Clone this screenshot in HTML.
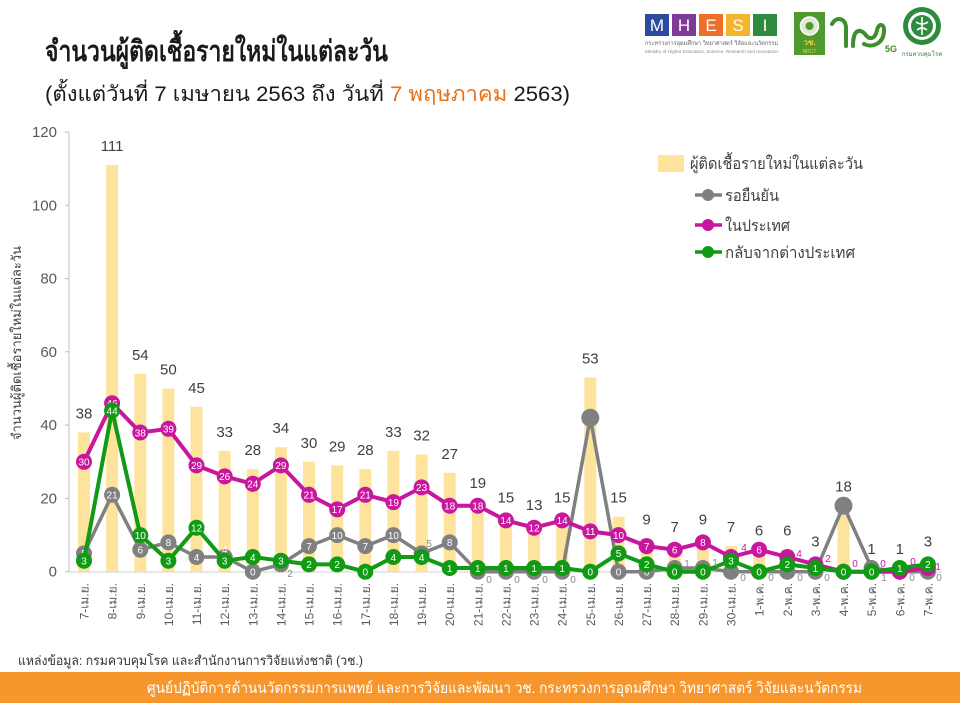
<!DOCTYPE html>
<html><head><meta charset="utf-8">
<style>
html,body{margin:0;padding:0;background:#fff;}
body{width:960px;height:703px;overflow:hidden;position:relative;font-family:"Liberation Sans","DejaVu Sans",sans-serif;}
svg{position:absolute;left:0;top:0;}
text{font-family:"Liberation Sans","DejaVu Sans",sans-serif;}
</style></head><body>
<svg width="960" height="703" viewBox="0 0 960 703" xmlns="http://www.w3.org/2000/svg">
<rect x="0" y="0" width="960" height="703" fill="#fff"/>
<!-- Title -->
<text x="45" y="61" font-size="29" font-weight="bold" fill="#1a1a1a" textLength="343" lengthAdjust="spacingAndGlyphs">จำนวนผู้ติดเชื้อรายใหม่ในแต่ละวัน</text>
<text x="45" y="101" font-size="21" fill="#1a1a1a" textLength="525" lengthAdjust="spacingAndGlyphs">(ตั้งแต่วันที่ 7 เมษายน 2563 ถึง วันที่ <tspan fill="#E8701A">7 พฤษภาคม</tspan> 2563)</text>

<!-- Logos -->
<rect x="645" y="14" width="24" height="22" fill="#2D4B9E"/>
<rect x="672" y="14" width="24" height="22" fill="#7E3A96"/>
<rect x="699" y="14" width="24" height="22" fill="#EE6E2A"/>
<rect x="726" y="14" width="24" height="22" fill="#F3B52C"/>
<rect x="753" y="14" width="24" height="22" fill="#2D8A3E"/>
<g font-size="17" fill="#fff" text-anchor="middle">
<text x="657" y="31" font-family="Liberation Serif,serif">M</text>
<text x="684" y="31" font-family="Liberation Serif,serif">H</text>
<text x="711" y="31" font-family="Liberation Serif,serif">E</text>
<text x="738" y="31" font-family="Liberation Serif,serif">S</text>
<text x="765" y="31" font-family="Liberation Serif,serif">I</text>
</g>
<text x="645" y="45" font-size="6" fill="#666" textLength="133" lengthAdjust="spacingAndGlyphs">กระทรวงการอุดมศึกษา วิทยาศาสตร์ วิจัยและนวัตกรรม</text>
<text x="645" y="53" font-size="4.5" fill="#888" textLength="133" lengthAdjust="spacingAndGlyphs">Ministry of Higher Education, Science, Research and Innovation</text>
<rect x="794" y="12" width="31" height="43" fill="#4E9A2F"/>
<circle cx="809.5" cy="26" r="9" fill="#dfe9d6" stroke="#fff" stroke-width="1.5"/>
<circle cx="809.5" cy="26" r="4" fill="#4E9A2F"/>
<text x="809.5" y="45" font-size="8" font-weight="bold" fill="#F3D23B" text-anchor="middle">วช.</text>
<text x="809.5" y="53" font-size="5" fill="#F3D23B" text-anchor="middle">NRCT</text>
<path d="M832,24 C836,16 846,18 846,28 L846,46 M853,46 C853,30 859,28 865,34 C869,40 875,40 877,30 C879,22 885,24 884,32 C883,44 872,48 864,44" stroke="#3E8E2E" stroke-width="4" fill="none" stroke-linecap="round"/>
<text x="885" y="52" font-size="9" font-weight="bold" fill="#3E8E2E">5G</text>
<circle cx="922" cy="26" r="19" fill="#2E8B3E"/>
<circle cx="922" cy="26" r="14" fill="#fff"/>
<circle cx="922" cy="26" r="11" fill="#2E8B3E"/>
<path d="M922,17 L922,35 M916,22 Q922,26 928,22 M917,30 Q922,26 927,30" stroke="#fff" stroke-width="1.6" fill="none"/>
<text x="922" y="56" font-size="6" fill="#2E8B3E" text-anchor="middle">กรมควบคุมโรค</text>

<!-- Axes -->
<line x1="69" y1="132" x2="69" y2="572" stroke="#BFBFBF" stroke-width="1"/>
<line x1="69" y1="572" x2="942" y2="572" stroke="#D0D0D0" stroke-width="1"/>
<g stroke="#BFBFBF" stroke-width="1">
<line x1="65" y1="132" x2="69" y2="132"/>
<line x1="65" y1="205.3" x2="69" y2="205.3"/>
<line x1="65" y1="278.6" x2="69" y2="278.6"/>
<line x1="65" y1="351.8" x2="69" y2="351.8"/>
<line x1="65" y1="425.1" x2="69" y2="425.1"/>
<line x1="65" y1="498.4" x2="69" y2="498.4"/>
<line x1="65" y1="571.7" x2="69" y2="571.7"/>
</g>
<g font-size="15" fill="#595959" text-anchor="end">
<text x="57" y="137">120</text>
<text x="57" y="210.3">100</text>
<text x="57" y="283.6">80</text>
<text x="57" y="356.8">60</text>
<text x="57" y="430.1">40</text>
<text x="57" y="503.4">20</text>
<text x="57" y="576.7">0</text>
</g>
<text transform="translate(21,343) rotate(-90)" font-size="13" fill="#404040" text-anchor="middle">จำนวนผู้ติดเชื้อรายใหม่ในแต่ละวัน</text>

<!-- Bars -->
<g fill="#FDE39C">
<rect x="78.0" y="432.5" width="12" height="139.2"/>
<rect x="106.1" y="165.0" width="12" height="406.7"/>
<rect x="134.3" y="373.8" width="12" height="197.9"/>
<rect x="162.4" y="388.5" width="12" height="183.2"/>
<rect x="190.5" y="406.8" width="12" height="164.9"/>
<rect x="218.7" y="450.8" width="12" height="120.9"/>
<rect x="246.8" y="469.1" width="12" height="102.6"/>
<rect x="274.9" y="447.1" width="12" height="124.6"/>
<rect x="303.0" y="461.8" width="12" height="109.9"/>
<rect x="331.2" y="465.4" width="12" height="106.3"/>
<rect x="359.3" y="469.1" width="12" height="102.6"/>
<rect x="387.4" y="450.8" width="12" height="120.9"/>
<rect x="415.6" y="454.5" width="12" height="117.2"/>
<rect x="443.7" y="472.8" width="12" height="98.9"/>
<rect x="471.8" y="502.1" width="12" height="69.6"/>
<rect x="499.9" y="516.7" width="12" height="55.0"/>
<rect x="528.1" y="524.1" width="12" height="47.6"/>
<rect x="556.2" y="516.7" width="12" height="55.0"/>
<rect x="584.3" y="377.5" width="12" height="194.2"/>
<rect x="612.5" y="516.7" width="12" height="55.0"/>
<rect x="640.6" y="538.7" width="12" height="33.0"/>
<rect x="668.7" y="546.1" width="12" height="25.6"/>
<rect x="696.9" y="538.7" width="12" height="33.0"/>
<rect x="725.0" y="546.1" width="12" height="25.6"/>
<rect x="753.1" y="549.7" width="12" height="22.0"/>
<rect x="781.3" y="549.7" width="12" height="22.0"/>
<rect x="809.4" y="560.7" width="12" height="11.0"/>
<rect x="837.5" y="505.7" width="12" height="66.0"/>
<rect x="865.6" y="568.0" width="12" height="3.7"/>
<rect x="893.8" y="568.0" width="12" height="3.7"/>
<rect x="921.9" y="560.7" width="12" height="11.0"/>
</g>
<g font-size="15" fill="#404040" text-anchor="middle">
<text x="84.0" y="418.5">38</text>
<text x="112.1" y="151">111</text>
<text x="140.3" y="359.8">54</text>
<text x="168.4" y="374.5">50</text>
<text x="196.5" y="392.8">45</text>
<text x="224.7" y="436.8">33</text>
<text x="252.8" y="455.1">28</text>
<text x="280.9" y="433.1">34</text>
<text x="309.0" y="447.8">30</text>
<text x="337.2" y="451.4">29</text>
<text x="365.3" y="455.1">28</text>
<text x="393.4" y="436.8">33</text>
<text x="421.6" y="440.5">32</text>
<text x="449.7" y="458.8">27</text>
<text x="477.8" y="488.1">19</text>
<text x="505.9" y="502.7">15</text>
<text x="534.1" y="510.1">13</text>
<text x="562.2" y="502.7">15</text>
<text x="590.3" y="363.5">53</text>
<text x="618.5" y="502.7">15</text>
<text x="646.6" y="524.7">9</text>
<text x="674.7" y="532.1">7</text>
<text x="702.9" y="524.7">9</text>
<text x="731.0" y="532.1">7</text>
<text x="759.1" y="535.7">6</text>
<text x="787.3" y="535.7">6</text>
<text x="815.4" y="546.7">3</text>
<text x="843.5" y="491.7">18</text>
<text x="871.6" y="554">1</text>
<text x="899.8" y="554">1</text>
<text x="927.9" y="546.7">3</text>
</g>

<!-- Gray series -->
<polyline fill="none" stroke="#808080" stroke-width="3.5" stroke-linejoin="round" points="84,553.4 112.1,494.8 140.3,549.7 168.4,542.4 196.5,557 224.7,557 252.8,571.7 280.9,564.4 309,546.1 337.2,535.1 365.3,546.1 393.4,535.1 421.6,553.4 449.7,542.4 477.8,571.7 505.9,571.7 534.1,571.7 562.2,571.7 590.3,417.8 618.5,571.7 646.6,571.7 674.7,568 702.9,568 731,571.7 759.1,571.7 787.3,571.7 815.4,571.7 843.5,505.7 871.6,568 899.8,571.7 927.9,571.7"/>
<g fill="#808080">
<circle cx="84" cy="553.4" r="8"/><circle cx="112.1" cy="494.8" r="8"/><circle cx="140.3" cy="549.7" r="8"/><circle cx="168.4" cy="542.4" r="8"/><circle cx="196.5" cy="557" r="8"/><circle cx="224.7" cy="557" r="8"/><circle cx="252.8" cy="571.7" r="8"/><circle cx="280.9" cy="564.4" r="8"/><circle cx="309" cy="546.1" r="8"/><circle cx="337.2" cy="535.1" r="8"/><circle cx="365.3" cy="546.1" r="8"/><circle cx="393.4" cy="535.1" r="8"/><circle cx="421.6" cy="553.4" r="8"/><circle cx="449.7" cy="542.4" r="8"/><circle cx="477.8" cy="571.7" r="8"/><circle cx="505.9" cy="571.7" r="8"/><circle cx="534.1" cy="571.7" r="8"/><circle cx="562.2" cy="571.7" r="8"/><circle cx="590.3" cy="417.8" r="9"/><circle cx="618.5" cy="571.7" r="8"/><circle cx="646.6" cy="571.7" r="8"/><circle cx="674.7" cy="568" r="8"/><circle cx="702.9" cy="568" r="8"/><circle cx="731" cy="571.7" r="8"/><circle cx="759.1" cy="571.7" r="8"/><circle cx="787.3" cy="571.7" r="8"/><circle cx="815.4" cy="571.7" r="8"/><circle cx="843.5" cy="505.7" r="9"/><circle cx="871.6" cy="568" r="8"/><circle cx="899.8" cy="571.7" r="8"/><circle cx="927.9" cy="571.7" r="8"/>
</g>
<g font-size="10" fill="#fff" text-anchor="middle">
<text x="84" y="557.2">5</text><text x="112.1" y="498.6">21</text><text x="140.3" y="553.5">6</text><text x="168.4" y="546.2">8</text><text x="196.5" y="560.8">4</text><text x="224.7" y="553">4</text><text x="252.8" y="575.5">0</text><text x="309" y="549.9">7</text><text x="337.2" y="538.9">10</text><text x="365.3" y="549.9">7</text><text x="393.4" y="538.9">10</text><text x="449.7" y="546.2">8</text><text x="618.5" y="575.5">0</text><text x="646.6" y="575.5">0</text>
</g>

<!-- Magenta series -->
<polyline fill="none" stroke="#C8169E" stroke-width="4" stroke-linejoin="round" points="84,461.8 112.1,403.2 140.3,432.5 168.4,428.8 196.5,465.4 224.7,476.4 252.8,483.8 280.9,465.4 309,494.8 337.2,509.4 365.3,494.8 393.4,502.1 421.6,487.4 449.7,505.7 477.8,505.7 505.9,520.4 534.1,527.7 562.2,520.4 590.3,531.4 618.5,535.1 646.6,546.1 674.7,549.7 702.9,542.4 731,557 759.1,549.7 787.3,557 815.4,564.4 843.5,571.7 871.6,571.7 899.8,571.7 927.9,568"/>
<g fill="#C8169E">
<circle cx="84" cy="461.8" r="8"/><circle cx="112.1" cy="403.2" r="8"/><circle cx="140.3" cy="432.5" r="8"/><circle cx="168.4" cy="428.8" r="8"/><circle cx="196.5" cy="465.4" r="8"/><circle cx="224.7" cy="476.4" r="8"/><circle cx="252.8" cy="483.8" r="8"/><circle cx="280.9" cy="465.4" r="8"/><circle cx="309" cy="494.8" r="8"/><circle cx="337.2" cy="509.4" r="8"/><circle cx="365.3" cy="494.8" r="8"/><circle cx="393.4" cy="502.1" r="8"/><circle cx="421.6" cy="487.4" r="8"/><circle cx="449.7" cy="505.7" r="8"/><circle cx="477.8" cy="505.7" r="8"/><circle cx="505.9" cy="520.4" r="8"/><circle cx="534.1" cy="527.7" r="8"/><circle cx="562.2" cy="520.4" r="8"/><circle cx="590.3" cy="531.4" r="8"/><circle cx="618.5" cy="535.1" r="8"/><circle cx="646.6" cy="546.1" r="8"/><circle cx="674.7" cy="549.7" r="8"/><circle cx="702.9" cy="542.4" r="8"/><circle cx="731" cy="557" r="8"/><circle cx="759.1" cy="549.7" r="8"/><circle cx="787.3" cy="557" r="8"/><circle cx="815.4" cy="564.4" r="8"/><circle cx="843.5" cy="571.7" r="8"/><circle cx="871.6" cy="571.7" r="8"/><circle cx="899.8" cy="571.7" r="8"/><circle cx="927.9" cy="568" r="8"/>
</g>
<g font-size="10" fill="#fff" text-anchor="middle">
<text x="84" y="465.6">30</text><text x="112.1" y="407">46</text><text x="140.3" y="436.3">38</text><text x="168.4" y="432.6">39</text><text x="196.5" y="469.2">29</text><text x="224.7" y="480.2">26</text><text x="252.8" y="487.6">24</text><text x="280.9" y="469.2">29</text><text x="309" y="498.6">21</text><text x="337.2" y="513.2">17</text><text x="365.3" y="498.6">21</text><text x="393.4" y="505.9">19</text><text x="421.6" y="491.2">23</text><text x="449.7" y="509.5">18</text><text x="477.8" y="509.5">18</text><text x="505.9" y="524.2">14</text><text x="534.1" y="531.5">12</text><text x="562.2" y="524.2">14</text><text x="590.3" y="535.2">11</text><text x="618.5" y="538.9">10</text><text x="646.6" y="549.9">7</text><text x="674.7" y="553.5">6</text><text x="702.9" y="546.2">8</text><text x="759.1" y="553.5">6</text>
</g>

<!-- Green series -->
<polyline fill="none" stroke="#119A14" stroke-width="4" stroke-linejoin="round" points="84,560.7 112.1,410.5 140.3,535.1 168.4,560.7 196.5,527.7 224.7,560.7 252.8,557 280.9,560.7 309,564.4 337.2,564.4 365.3,571.7 393.4,557 421.6,557 449.7,568 477.8,568 505.9,568 534.1,568 562.2,568 590.3,571.7 618.5,553.4 646.6,564.4 674.7,571.7 702.9,571.7 731,560.7 759.1,571.7 787.3,564.4 815.4,568 843.5,571.7 871.6,571.7 899.8,568 927.9,564.4"/>
<g fill="#119A14">
<circle cx="84" cy="560.7" r="8"/><circle cx="112.1" cy="410.5" r="8"/><circle cx="140.3" cy="535.1" r="8"/><circle cx="168.4" cy="560.7" r="8"/><circle cx="196.5" cy="527.7" r="8"/><circle cx="224.7" cy="560.7" r="8"/><circle cx="252.8" cy="557" r="8"/><circle cx="280.9" cy="560.7" r="8"/><circle cx="309" cy="564.4" r="8"/><circle cx="337.2" cy="564.4" r="8"/><circle cx="365.3" cy="571.7" r="8"/><circle cx="393.4" cy="557" r="8"/><circle cx="421.6" cy="557" r="8"/><circle cx="449.7" cy="568" r="8"/><circle cx="477.8" cy="568" r="8"/><circle cx="505.9" cy="568" r="8"/><circle cx="534.1" cy="568" r="8"/><circle cx="562.2" cy="568" r="8"/><circle cx="590.3" cy="571.7" r="8"/><circle cx="618.5" cy="553.4" r="8"/><circle cx="646.6" cy="564.4" r="8"/><circle cx="674.7" cy="571.7" r="8"/><circle cx="702.9" cy="571.7" r="8"/><circle cx="731" cy="560.7" r="8"/><circle cx="759.1" cy="571.7" r="8"/><circle cx="787.3" cy="564.4" r="8"/><circle cx="815.4" cy="568" r="8"/><circle cx="843.5" cy="571.7" r="8"/><circle cx="871.6" cy="571.7" r="8"/><circle cx="899.8" cy="568" r="8"/><circle cx="927.9" cy="564.4" r="8"/>
</g>
<g font-size="10" fill="#fff" text-anchor="middle">
<text x="84" y="564.5">3</text><text x="112.1" y="414.3">44</text><text x="140.3" y="538.9">10</text><text x="168.4" y="564.5">3</text><text x="196.5" y="531.5">12</text><text x="224.7" y="564.5">3</text><text x="252.8" y="560.8">4</text><text x="280.9" y="564.5">3</text><text x="309" y="568.2">2</text><text x="337.2" y="568.2">2</text><text x="365.3" y="575.5">0</text><text x="393.4" y="560.8">4</text><text x="421.6" y="560.8">4</text><text x="449.7" y="571.8">1</text><text x="477.8" y="571.8">1</text><text x="505.9" y="571.8">1</text><text x="534.1" y="571.8">1</text><text x="562.2" y="571.8">1</text><text x="590.3" y="575.5">0</text><text x="618.5" y="557.2">5</text><text x="646.6" y="568.2">2</text><text x="674.7" y="575.5">0</text><text x="702.9" y="575.5">0</text><text x="731" y="564.5">3</text><text x="759.1" y="575.5">0</text><text x="787.3" y="568.2">2</text><text x="815.4" y="571.8">1</text><text x="843.5" y="575.5">0</text><text x="871.6" y="575.5">0</text><text x="899.8" y="571.8">1</text><text x="927.9" y="568.2">2</text>
</g>

<!-- small outside labels -->
<g font-size="10" fill="#8a8a8a" text-anchor="middle">
<text x="290" y="577">2</text>
<text x="429" y="547">5</text>
<text x="489" y="583">0</text><text x="517" y="583">0</text><text x="545" y="583">0</text><text x="573" y="583">0</text>
<text x="687" y="567">1</text><text x="715" y="566">1</text>
<text x="743" y="581">0</text><text x="771" y="581">0</text><text x="800" y="581">0</text><text x="827" y="581">0</text>
<text x="884" y="581">1</text><text x="912" y="581">0</text><text x="939" y="581">0</text>
</g>
<g font-size="10" fill="#C8169E" text-anchor="middle">
<text x="744" y="551">4</text><text x="799" y="557">4</text><text x="828" y="562">2</text><text x="855" y="567">0</text><text x="883" y="567">0</text><text x="913" y="565">0</text><text x="938" y="570">1</text>
</g>

<!-- X labels -->
<g font-size="12" fill="#595959" text-anchor="end">
<text transform="translate(88.5,583) rotate(-90)">7-เม.ย.</text>
<text transform="translate(116.6,583) rotate(-90)">8-เม.ย.</text>
<text transform="translate(144.8,583) rotate(-90)">9-เม.ย.</text>
<text transform="translate(172.9,583) rotate(-90)">10-เม.ย.</text>
<text transform="translate(201,583) rotate(-90)">11-เม.ย.</text>
<text transform="translate(229.2,583) rotate(-90)">12-เม.ย.</text>
<text transform="translate(257.3,583) rotate(-90)">13-เม.ย.</text>
<text transform="translate(285.4,583) rotate(-90)">14-เม.ย.</text>
<text transform="translate(313.5,583) rotate(-90)">15-เม.ย.</text>
<text transform="translate(341.7,583) rotate(-90)">16-เม.ย.</text>
<text transform="translate(369.8,583) rotate(-90)">17-เม.ย.</text>
<text transform="translate(397.9,583) rotate(-90)">18-เม.ย.</text>
<text transform="translate(426.1,583) rotate(-90)">19-เม.ย.</text>
<text transform="translate(454.2,583) rotate(-90)">20-เม.ย.</text>
<text transform="translate(482.3,583) rotate(-90)">21-เม.ย.</text>
<text transform="translate(510.4,583) rotate(-90)">22-เม.ย.</text>
<text transform="translate(538.6,583) rotate(-90)">23-เม.ย.</text>
<text transform="translate(566.7,583) rotate(-90)">24-เม.ย.</text>
<text transform="translate(594.8,583) rotate(-90)">25-เม.ย.</text>
<text transform="translate(623,583) rotate(-90)">26-เม.ย.</text>
<text transform="translate(651.1,583) rotate(-90)">27-เม.ย.</text>
<text transform="translate(679.2,583) rotate(-90)">28-เม.ย.</text>
<text transform="translate(707.4,583) rotate(-90)">29-เม.ย.</text>
<text transform="translate(735.5,583) rotate(-90)">30-เม.ย.</text>
<text transform="translate(763.6,583) rotate(-90)">1-พ.ค.</text>
<text transform="translate(791.8,583) rotate(-90)">2-พ.ค.</text>
<text transform="translate(819.9,583) rotate(-90)">3-พ.ค.</text>
<text transform="translate(848,583) rotate(-90)">4-พ.ค.</text>
<text transform="translate(876.1,583) rotate(-90)">5-พ.ค.</text>
<text transform="translate(904.3,583) rotate(-90)">6-พ.ค.</text>
<text transform="translate(932.4,583) rotate(-90)">7-พ.ค.</text>
</g>

<!-- Legend -->
<rect x="658" y="155" width="26" height="17" fill="#FDE39C"/>
<text x="690" y="169" font-size="16" fill="#404040" textLength="173" lengthAdjust="spacingAndGlyphs">ผู้ติดเชื้อรายใหม่ในแต่ละวัน</text>
<line x1="695" y1="195" x2="722" y2="195" stroke="#808080" stroke-width="3.5"/>
<circle cx="708" cy="195" r="6" fill="#808080"/>
<text x="725" y="201" font-size="16" fill="#404040" textLength="54" lengthAdjust="spacingAndGlyphs">รอยืนยัน</text>
<line x1="695" y1="225" x2="722" y2="225" stroke="#C8169E" stroke-width="3.5"/>
<circle cx="708" cy="225" r="6" fill="#C8169E"/>
<text x="725" y="231" font-size="16" fill="#404040" textLength="65" lengthAdjust="spacingAndGlyphs">ในประเทศ</text>
<line x1="695" y1="252" x2="722" y2="252" stroke="#119A14" stroke-width="3.5"/>
<circle cx="708" cy="252" r="6" fill="#119A14"/>
<text x="725" y="258" font-size="16" fill="#404040" textLength="130" lengthAdjust="spacingAndGlyphs">กลับจากต่างประเทศ</text>

<!-- Footer -->
<text x="18" y="665" font-size="13" fill="#333" textLength="345" lengthAdjust="spacingAndGlyphs">แหล่งข้อมูล: กรมควบคุมโรค และสำนักงานการวิจัยแห่งชาติ (วช.)</text>
<rect x="0" y="672" width="960" height="31" fill="#F7962C"/>
<text x="147" y="693" font-size="15" fill="#fff" textLength="715" lengthAdjust="spacingAndGlyphs">ศูนย์ปฏิบัติการด้านนวัตกรรมการแพทย์ และการวิจัยและพัฒนา   วช.   กระทรวงการอุดมศึกษา วิทยาศาสตร์ วิจัยและนวัตกรรม</text>
</svg>
</body></html>
